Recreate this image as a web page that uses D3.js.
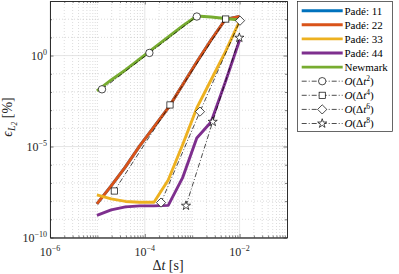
<!DOCTYPE html>
<html>
<head>
<meta charset="utf-8">
<script src="https://cdn.jsdelivr.net/npm/d3@7/dist/d3.min.js"></script>
<style>
body { margin: 0; background: #fff; }
svg { display: block; font-family: "Liberation Serif", "DejaVu Serif", serif; }
</style>
</head>
<body>
<svg id="chart" width="399" height="274"></svg>
<script>
// time steps (s)
var dt = [9.766e-6, 1.953e-5, 3.906e-5, 7.813e-5, 1.563e-4, 3.125e-4, 6.25e-4, 1.25e-3, 2.5e-3, 5e-3, 1e-2];

// error values (%) per scheme
var pade11 = [7.0e-9, 6.8e-8, 7.6e-7, 1.08e-5, 1.19e-4, 1.32e-3, 0.0243, 0.445, 7.2, 96, 141];
var pade22 = [7.0e-9, 6.8e-8, 7.6e-7, 1.08e-5, 1.19e-4, 1.32e-3, 0.0243, 0.445, 7.2, 96, 141];
var pade33 = [2.19e-8, 1.32e-8, 9.6e-9, 8.7e-9, 8.7e-9, 1.46e-7, 1.22e-5, 1.32e-3, 0.0456, 1.58, 79.6];
var pade44 = [1.64e-9, 3.28e-9, 4.8e-9, 5.45e-9, 5.45e-9, 5.8e-9, 1.88e-7, 2.97e-5, 2.25e-4, 0.0354, 7.2];
var newmark = [0.0114, 0.0456, 0.162, 0.65, 2.62, 10.5, 42.3, 150, 132, 109, 90];

// reference slopes
var ref2X = [1.25e-5, 1.25e-4, 1.25e-3];
var ref2Y = [0.014, 1.4, 140];
var ref4X = [2.27e-5, 3.4e-4, 5.1e-3];
var ref4Y = [3.6e-8, 1.93e-3, 102];
var ref6X = [2.2e-4, 1.46e-3, 1.02e-2];
var ref6Y = [8.3e-9, 8.3e-4, 82.8];
var ref8X = [7.4e-4, 2.71e-3, 9.87e-3];
var ref8Y = [5.6e-9, 2.3e-4, 9.6];

var xTicks = [1e-6, 1e-4, 1e-2];
var xTickExp = ["\u22126", "\u22124", "\u22122"];
var yTicks = [1e-10, 1e-5, 1e0];
var yTickExp = ["\u221210", "\u22125", "0"];

var seriesNames = ["Padé: 11", "Padé: 22", "Padé: 33", "Padé: 44", "Newmark"];
var refOrders = ["2", "4", "6", "8"];
var refMarkers = ["circle", "square", "diamond", "star"];

var colors = ["#0072BD", "#D95319", "#EDB120", "#7E2F8E", "#77AC30"];

var svg = d3.select("#chart");

var pLeft = 50, pRight = 287, pTop = 1, pBottom = 237.5;

var x = d3.scaleLog().domain([1e-6, 1e-1]).range([pLeft, pRight]);
var y = d3.scaleLog().domain([1e-10, 1e3]).range([pBottom, pTop]);

// grid - minor first
var gridG = svg.append("g");
var xMinor = [];
for (var e = -6; e < -1; e++) {
	for (var k = 1; k < 10; k++) {
		var v = k * Math.pow(10, e);
		if (k == 1 && (e == -6 || e == -4 || e == -2)) continue;
		xMinor.push(v);
	}
}
var yMinor = [];
for (var e2 = -9; e2 < 3; e2++) {
	if (e2 != -5 && e2 != 0) yMinor.push(Math.pow(10, e2));
}

gridG.selectAll(".xmin").data(xMinor).enter().append("line")
	.attr("x1", function (d) { return x(d); })
	.attr("x2", function (d) { return x(d); })
	.attr("y1", pTop).attr("y2", pBottom)
	.attr("stroke", "#c4c4c4").attr("stroke-width", 0.6)
	.attr("stroke-dasharray", "1,2");
gridG.selectAll(".ymin").data(yMinor).enter().append("line")
	.attr("x1", pLeft).attr("x2", pRight)
	.attr("y1", function (d) { return y(d); })
	.attr("y2", function (d) { return y(d); })
	.attr("stroke", "#c4c4c4").attr("stroke-width", 0.6)
	.attr("stroke-dasharray", "1,2");
gridG.selectAll(".xmaj").data(xTicks).enter().append("line")
	.attr("x1", function (d) { return x(d); })
	.attr("x2", function (d) { return x(d); })
	.attr("y1", pTop).attr("y2", pBottom)
	.attr("stroke", "#dedede").attr("stroke-width", 0.8);
gridG.selectAll(".ymaj").data(yTicks).enter().append("line")
	.attr("x1", pLeft).attr("x2", pRight)
	.attr("y1", function (d) { return y(d); })
	.attr("y2", function (d) { return y(d); })
	.attr("stroke", "#dedede").attr("stroke-width", 0.8);

var line = d3.line()
	.x(function (d) { return x(d[0]); })
	.y(function (d) { return y(d[1]); });

var refs = [[ref2X, ref2Y], [ref4X, ref4Y], [ref6X, ref6Y], [ref8X, ref8Y]];

// series
var allSeries = [pade11, pade22, pade33, pade44, newmark];
for (var s = 0; s < allSeries.length; s++) {
	var pts = dt.map(function (d, i) { return [d, allSeries[s][i]]; });
	svg.append("path")
		.attr("d", line(pts))
		.attr("fill", "none")
		.attr("stroke", colors[s])
		.attr("stroke-width", 2.9)
		.attr("stroke-linejoin", "round");
}

function starPath(r) {
	var p = [];
	for (var i = 0; i < 10; i++) {
		var rr = (i % 2 == 0) ? r : r * 0.382;
		var a = -Math.PI / 2 + i * Math.PI / 5;
		p.push([rr * Math.cos(a), rr * Math.sin(a)]);
	}
	return "M" + p.map(function (q) { return q[0].toFixed(2) + "," + q[1].toFixed(2); }).join("L") + "Z";
}

function drawMarker(g, type, cx, cy) {
	var m;
	if (type == "circle") {
		m = g.append("circle").attr("cx", cx).attr("cy", cy).attr("r", 3.7);
	} else if (type == "square") {
		m = g.append("rect").attr("x", cx - 3.1).attr("y", cy - 3.1).attr("width", 6.2).attr("height", 6.2);
	} else if (type == "diamond") {
		m = g.append("path").attr("d", "M" + cx + "," + (cy - 4.6) + "L" + (cx + 4.6) + "," + cy + "L" + cx + "," + (cy + 4.6) + "L" + (cx - 4.6) + "," + cy + "Z");
	} else {
		m = g.append("path").attr("d", starPath(4.8)).attr("transform", "translate(" + cx + "," + cy + ")");
	}
	m.attr("fill", "#fff").attr("stroke", "#000").attr("stroke-width", 0.7);
}

// reference lines (dash dot) with markers
for (var r = 0; r < refs.length; r++) {
	var rp = refs[r][0].map(function (d, i) { return [d, refs[r][1][i]]; });
	svg.append("path")
		.attr("d", line(rp))
		.attr("fill", "none")
		.attr("stroke", "#000")
		.attr("stroke-width", 0.7)
		.attr("stroke-dasharray", "5,2,1,2");
	for (var j = 0; j < rp.length; j++) {
		drawMarker(svg, refMarkers[r], x(rp[j][0]), y(rp[j][1]));
	}
}

// axes box with inside ticks
var axG = svg.append("g");
axG.append("g").attr("transform", "translate(0," + pBottom + ")")
	.call(d3.axisBottom(x).tickValues(xTicks).tickSizeInner(-3.5).tickSizeOuter(0).tickFormat(""));
axG.append("g").attr("transform", "translate(0," + pTop + ")")
	.call(d3.axisTop(x).tickValues(xTicks).tickSizeInner(-3.5).tickSizeOuter(0).tickFormat(""));
axG.append("g").attr("transform", "translate(" + pLeft + ",0)")
	.call(d3.axisLeft(y).tickValues(yTicks).tickSizeInner(-3.5).tickSizeOuter(0).tickFormat(""));
axG.append("g").attr("transform", "translate(" + pRight + ",0)")
	.call(d3.axisRight(y).tickValues(yTicks).tickSizeInner(-3.5).tickSizeOuter(0).tickFormat(""));
// minor ticks
axG.append("g").attr("transform", "translate(0," + pBottom + ")")
	.call(d3.axisBottom(x).tickValues(xMinor).tickSizeInner(-2).tickSizeOuter(0).tickFormat(""));
axG.append("g").attr("transform", "translate(0," + pTop + ")")
	.call(d3.axisTop(x).tickValues(xMinor).tickSizeInner(-2).tickSizeOuter(0).tickFormat(""));
axG.append("g").attr("transform", "translate(" + pLeft + ",0)")
	.call(d3.axisLeft(y).tickValues(yMinor).tickSizeInner(-2).tickSizeOuter(0).tickFormat(""));
axG.append("g").attr("transform", "translate(" + pRight + ",0)")
	.call(d3.axisRight(y).tickValues(yMinor).tickSizeInner(-2).tickSizeOuter(0).tickFormat(""));
axG.selectAll("path.domain").attr("stroke", "#262626").attr("stroke-width", 0.8);
axG.selectAll(".tick line").attr("stroke", "#262626").attr("stroke-width", 0.6);

// tick labels
for (var t = 0; t < xTicks.length; t++) {
	var tx = svg.append("text")
		.attr("x", x(xTicks[t]))
		.attr("y", 256)
		.attr("text-anchor", "middle")
		.attr("font-size", 12)
		.attr("fill", "#262626")
		.text("10");
	tx.append("tspan").attr("dy", -5).attr("font-size", 8).text(xTickExp[t]);
}
for (var t2 = 0; t2 < yTicks.length; t2++) {
	var ty = svg.append("text")
		.attr("x", 47)
		.attr("y", y(yTicks[t2]) + 4)
		.attr("text-anchor", "end")
		.attr("font-size", 12)
		.attr("fill", "#262626")
		.text("10");
	ty.append("tspan").attr("dy", -5).attr("font-size", 8).text(yTickExp[t2]);
}

// axis labels
var xl = svg.append("text")
	.attr("x", 168).attr("y", 270)
	.attr("text-anchor", "middle")
	.attr("font-size", 14)
	.attr("fill", "#262626")
	.text("\u0394");
xl.append("tspan").attr("font-style", "italic").text("t");
xl.append("tspan").text(" [s]");

var yl = svg.append("text")
	.attr("transform", "translate(12,117) rotate(-90)")
	.attr("text-anchor", "middle")
	.attr("font-size", 14)
	.attr("fill", "#262626");
yl.append("tspan").attr("font-style", "italic").text("\u03F5");
yl.append("tspan").attr("font-style", "italic").attr("font-size", 10).attr("dy", 3).text("L");
yl.append("tspan").attr("font-style", "italic").attr("font-size", 7.5).attr("dy", 1.5).text("2");
yl.append("tspan").attr("dy", -4.5).text(" [%]");

// legend
var lg = svg.append("g");
lg.append("rect")
	.attr("x", 297.5).attr("y", 1.5)
	.attr("width", 95).attr("height", 130)
	.attr("fill", "#fff")
	.attr("stroke", "#262626")
	.attr("stroke-width", 0.7);

var rowY0 = 10.7, rowStep = 14.1;
for (var n = 0; n < seriesNames.length; n++) {
	var ry = rowY0 + n * rowStep;
	lg.append("line")
		.attr("x1", 301.7).attr("x2", 342.7)
		.attr("y1", ry).attr("y2", ry)
		.attr("stroke", colors[n]).attr("stroke-width", 2.9);
	lg.append("text")
		.attr("x", 344.5).attr("y", ry + 3.8)
		.attr("font-size", 11)
		.attr("fill", "#000")
		.text(seriesNames[n]);
}
for (var m = 0; m < refOrders.length; m++) {
	var ry2 = rowY0 + (m + 5) * rowStep;
	lg.append("line")
		.attr("x1", 301.7).attr("x2", 342.7)
		.attr("y1", ry2).attr("y2", ry2)
		.attr("stroke", "#000").attr("stroke-width", 0.7)
		.attr("stroke-dasharray", "5,2,1,2");
	drawMarker(lg, refMarkers[m], 322.2, ry2);
	var lt = lg.append("text")
		.attr("x", 344.5).attr("y", ry2 + 3.8)
		.attr("font-size", 11)
		.attr("fill", "#000");
	lt.append("tspan").attr("font-style", "italic").text("O");
	lt.append("tspan").text("(\u0394");
	lt.append("tspan").attr("font-style", "italic").text("t");
	lt.append("tspan").attr("dy", -4).attr("font-size", 7.5).text(refOrders[m]);
	lt.append("tspan").attr("dy", 4).text(")");
}
</script>
</body>
</html>
